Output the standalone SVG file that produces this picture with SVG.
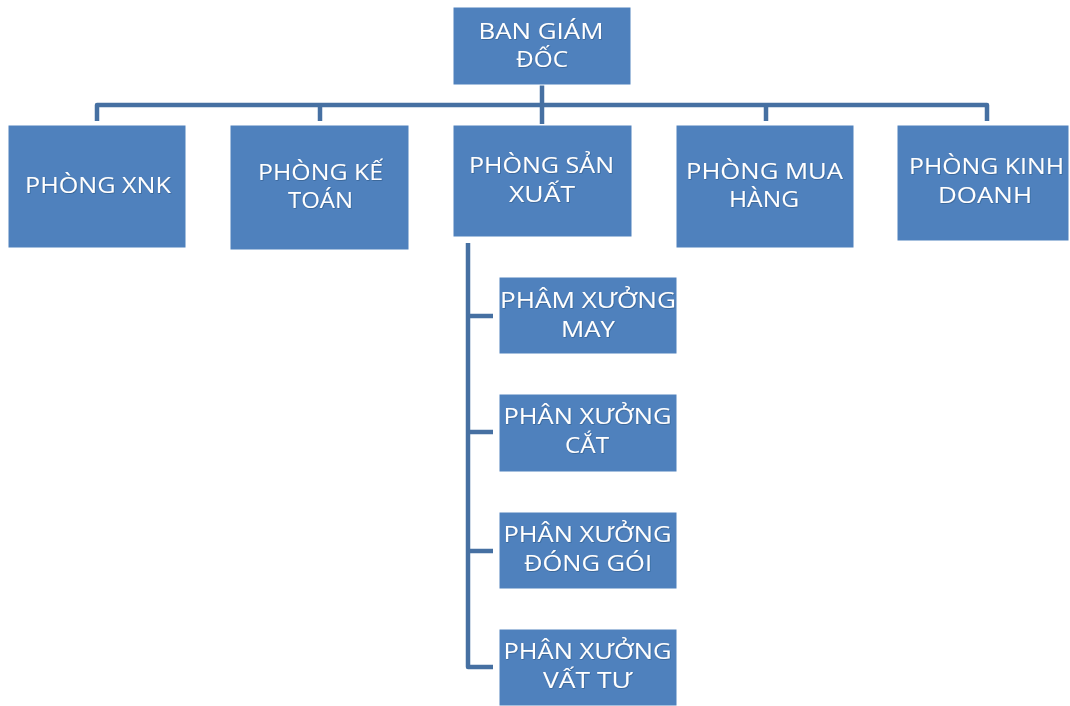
<svg xmlns="http://www.w3.org/2000/svg" width="1070" height="706" viewBox="0 0 1070 706">
<defs>
<filter id="ts" x="-10%" y="-30%" width="120%" height="160%">
<feDropShadow dx="0.6" dy="0.8" stdDeviation="0.6" flood-color="#1f3a5f" flood-opacity="0.45"/>
</filter>
</defs>
<style>
.box{fill:#4F81BD;stroke:#ffffff;stroke-width:1}
.lbl{font-family:"Open Sans","DejaVu Sans",sans-serif;font-size:21px;fill:#ffffff;text-anchor:middle;filter:url(#ts)}
.con{fill:none;stroke:#4670A2;stroke-width:4.5;stroke-linejoin:round;stroke-linecap:butt}
</style>
<rect width="1070" height="706" fill="#ffffff"/>
<g id="connectors">
<path class="con" d="M97,121 V105 H987 V121"/>
<path class="con" d="M320,105 V121 M766,105 V121 M542,85 V124"/>
<path class="con" d="M468,243 V667 H493 M468,316 H493 M468,432 H493 M468,551 H493"/>
</g>
<g id="ban-giam-doc">
<rect class="box" x="453" y="7" width="178" height="78"/>
<text class="lbl" x="541" y="39" textLength="125" lengthAdjust="spacingAndGlyphs">BAN GIÁM</text>
<text class="lbl" x="542" y="67" textLength="52" lengthAdjust="spacingAndGlyphs">ĐỐC</text>
</g>
<g id="phong-xnk">
<rect class="box" x="8" y="125" width="178" height="123"/>
<text class="lbl" x="98" y="193" textLength="146" lengthAdjust="spacingAndGlyphs">PHÒNG XNK</text>
</g>
<g id="phong-ke-toan">
<rect class="box" x="230" y="125" width="179" height="125"/>
<text class="lbl" x="320.5" y="180" textLength="125" lengthAdjust="spacingAndGlyphs">PHÒNG KẾ</text>
<text class="lbl" x="320.5" y="208" textLength="65" lengthAdjust="spacingAndGlyphs">TOÁN</text>
</g>
<g id="phong-san-xuat">
<rect class="box" x="453" y="125" width="179" height="112"/>
<text class="lbl" x="541.5" y="173" textLength="145" lengthAdjust="spacingAndGlyphs">PHÒNG SẢN</text>
<text class="lbl" x="542" y="202" textLength="66" lengthAdjust="spacingAndGlyphs">XUẤT</text>
</g>
<g id="phong-mua-hang">
<rect class="box" x="676" y="125" width="178" height="123"/>
<text class="lbl" x="764.5" y="179" textLength="157" lengthAdjust="spacingAndGlyphs">PHÒNG MUA</text>
<text class="lbl" x="764" y="207" textLength="70" lengthAdjust="spacingAndGlyphs">HÀNG</text>
</g>
<g id="phong-kinh-doanh">
<rect class="box" x="897" y="125" width="172" height="116"/>
<text class="lbl" x="986.5" y="174" textLength="155" lengthAdjust="spacingAndGlyphs">PHÒNG KINH</text>
<text class="lbl" x="985" y="203" textLength="94" lengthAdjust="spacingAndGlyphs">DOANH</text>
</g>
<g id="px-may">
<rect class="box" x="499" y="277" width="178" height="77"/>
<text class="lbl" x="588" y="308" textLength="176" lengthAdjust="spacingAndGlyphs">PHÂM XƯỞNG</text>
<text class="lbl" x="588" y="337" textLength="54" lengthAdjust="spacingAndGlyphs">MAY</text>
</g>
<g id="px-cat">
<rect class="box" x="499" y="394" width="178" height="78"/>
<text class="lbl" x="587.5" y="424" textLength="168" lengthAdjust="spacingAndGlyphs">PHÂN XƯỞNG</text>
<text class="lbl" x="587" y="453" textLength="44" lengthAdjust="spacingAndGlyphs">CẮT</text>
</g>
<g id="px-dong-goi">
<rect class="box" x="499" y="512" width="178" height="77"/>
<text class="lbl" x="587.5" y="542" textLength="168" lengthAdjust="spacingAndGlyphs">PHÂN XƯỞNG</text>
<text class="lbl" x="588" y="571" textLength="128" lengthAdjust="spacingAndGlyphs">ĐÓNG GÓI</text>
</g>
<g id="px-vat-tu">
<rect class="box" x="499" y="629" width="178" height="77"/>
<text class="lbl" x="587.5" y="659" textLength="168" lengthAdjust="spacingAndGlyphs">PHÂN XƯỞNG</text>
<text class="lbl" x="587.5" y="688" textLength="89" lengthAdjust="spacingAndGlyphs">VẤT TƯ</text>
</g>
</svg>
